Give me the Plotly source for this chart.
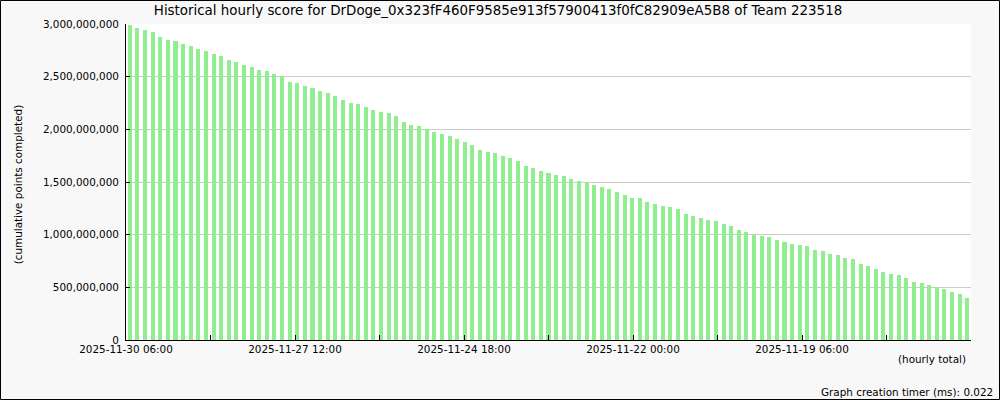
import plotly.graph_objects as go

# cumulative points completed (millions), newest first (left) to oldest (right)
values_m = [
    2993, 2965, 2946, 2927, 2879, 2851, 2841, 2813, 2794, 2765,
    2746, 2717, 2698, 2660, 2641, 2613, 2594, 2565, 2556, 2527,
    2508, 2451, 2441, 2413, 2394, 2365, 2346, 2318, 2280, 2251,
    2241, 2213, 2184, 2165, 2156, 2127, 2070, 2042, 2032, 2004,
    1975, 1956, 1937, 1908, 1880, 1851, 1804, 1785, 1775, 1747,
    1728, 1699, 1651, 1632, 1604, 1585, 1566, 1556, 1528, 1509,
    1490, 1470, 1451, 1432, 1404, 1375, 1347, 1347, 1309, 1290,
    1271, 1261, 1242, 1194, 1175, 1156, 1137, 1128, 1099, 1080,
    1042, 1023, 995, 985, 976, 947, 928, 909, 899, 890,
    852, 842, 814, 804, 776, 766, 719, 700, 671, 642,
    623, 614, 585, 547, 538, 519, 500, 481, 452, 433,
    395,
]
values = [v * 1_000_000 for v in values_m]
bar_index = list(range(len(values)))

tick_labels = [
    "2025-11-30 06:00", "", "2025-11-27 12:00", "", "2025-11-24 18:00", "",
    "2025-11-22 00:00", "", "2025-11-19 06:00", "", "",
]

title_text = "Historical hourly score for DrDoge_0x323fF460F9585e913f57900413f0fC82909eA5B8 of Team 223518"
y_title = "(cumulative points completed)"
x_title = "(hourly total)"
footer = "Graph creation timer (ms): 0.022"

W, H = 1000, 400
ML, MR, MT, MB = 126, 29, 24, 60
PW, PH = W - ML - MR, H - MT - MB

def px_x(px):
    return (px - ML) / PW

def px_y(py):
    return (H - MB - py) / PH

n = len(values)
x_lo, x_hi = -0.5, n - 0.5
n_ticks = len(tick_labels)
tick_vals = [x_lo + k * (x_hi - x_lo) / (n_ticks - 1) for k in range(n_ticks)]

FONT = "DejaVu Sans"

fig = go.Figure()
fig.add_trace(go.Bar(
    x=bar_index, y=values,
    marker=dict(color="#90ee90", line=dict(width=0)),
    width=0.53,
    hoverinfo="skip",
))

fig.update_layout(
    width=W, height=H,
    margin=dict(l=ML, r=MR, t=MT, b=MB, pad=0),
    paper_bgcolor="#f8f8f8",
    plot_bgcolor="#ffffff",
    showlegend=False,
    font=dict(family=FONT, size=10.4, color="#000000"),
    title=dict(
        text=title_text, x=0.498, xref="container", xanchor="center",
        y=1 - 10.5 / H, yref="container", yanchor="middle",
        font=dict(family=FONT, size=13.4, color="#000000"),
    ),
    bargap=0,
)

fig.update_xaxes(
    range=[x_lo, x_hi],
    tickmode="array", tickvals=tick_vals, ticktext=tick_labels,
    ticks="inside", ticklen=5, tickwidth=1, tickcolor="#000000",
    showline=True, linecolor="#000000", linewidth=1,
    showgrid=False, zeroline=False,
    tickfont=dict(family=FONT, size=10.4, color="#000000"),
    fixedrange=True,
)
fig.update_yaxes(
    range=[0, 3_000_000_000], dtick=500_000_000, tick0=0,
    tickformat=",d",
    ticks="inside", ticklen=4, tickwidth=1, tickcolor="#000000",
    ticklabelstandoff=4,
    showline=True, linecolor="#000000", linewidth=1,
    showgrid=True, gridcolor="#cccccc", gridwidth=1,
    zeroline=False,
    tickfont=dict(family=FONT, size=10.4, color="#000000"),
    fixedrange=True,
)

fig.add_annotation(
    text=y_title, textangle=-90, showarrow=False,
    xref="paper", yref="paper", x=px_x(18.3), y=px_y(184),
    xanchor="center", yanchor="middle",
    font=dict(family=FONT, size=10.4, color="#000000"),
)
fig.add_annotation(
    text=x_title, showarrow=False,
    xref="paper", yref="paper", x=px_x(968), y=px_y(359),
    xanchor="right", yanchor="middle",
    font=dict(family=FONT, size=10.4, color="#000000"),
)
fig.add_annotation(
    text=footer, showarrow=False,
    xref="paper", yref="paper", x=px_x(995), y=px_y(392),
    xanchor="right", yanchor="middle",
    font=dict(family=FONT, size=10.4, color="#000000"),
)

# outer border of the picture
fig.add_shape(
    type="rect", xref="paper", yref="paper",
    x0=px_x(0.5), x1=px_x(999.5), y0=px_y(399.5), y1=px_y(0.5),
    line=dict(color="#000000", width=1), fillcolor="rgba(0,0,0,0)",
    layer="above",
)

fig.write_html(
    "out.html",
    config=dict(displayModeBar=False),
    post_script="document.body.style.margin='0';document.body.style.padding='0';",
)
